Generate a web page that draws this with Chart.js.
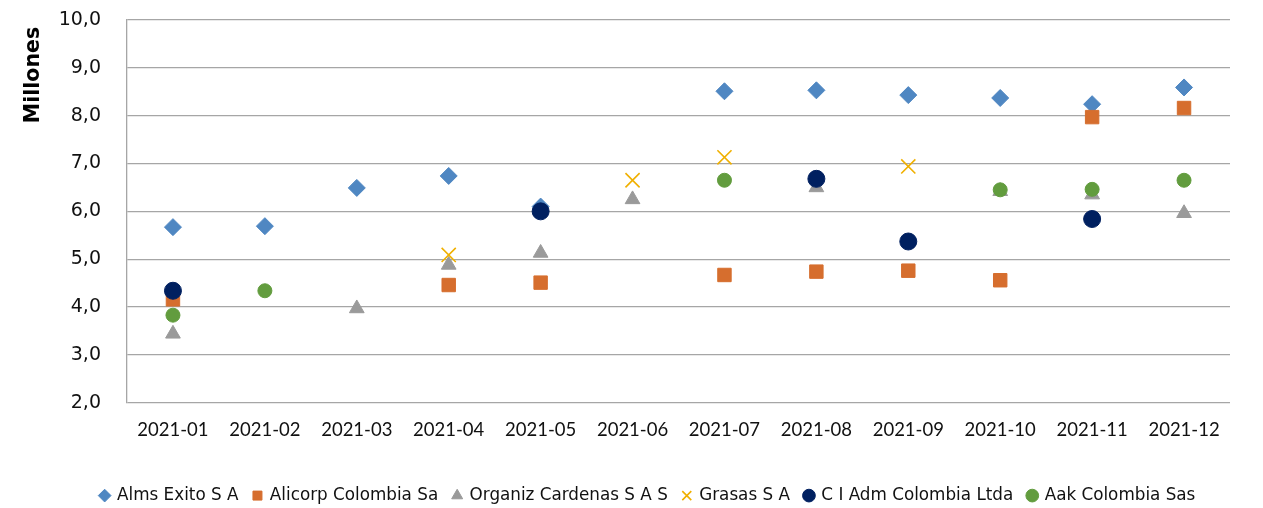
<!DOCTYPE html>
<html>
<head>
<meta charset="utf-8">
<script src="https://cdn.jsdelivr.net/npm/chart.js@4"></script>
<style>
  html, body { margin: 0; padding: 0; background: #fff; }
  #wrap { width: 1263px; height: 508px; }
</style>
</head>
<body>
<div id="wrap"><canvas id="myChart" width="1263" height="508"></canvas></div>
<script>
const months = ['2021-01', '2021-02', '2021-03', '2021-04', '2021-05', '2021-06',
  '2021-07', '2021-08', '2021-09', '2021-10', '2021-11', '2021-12']

// valores en millones
const almsExito = [5.67, 5.69, 6.49, 6.74, 6.1, null, 8.51, 8.53, 8.43, 8.37, 8.24, 8.59]
const alicorp = [4.16, null, null, 4.46, 4.51, null, 4.67, 4.74, 4.76, 4.56, 7.97, 8.16]
const organiz = [3.44, null, 3.97, 4.88, 5.13, 6.25, null, 6.5, null, 6.42, 6.35, 5.96]
const grasas = [null, null, null, 5.09, null, 6.65, 7.13, null, 6.94, null, null, null]
const ciAdm = [4.34, null, null, null, 6.0, null, null, 6.68, 5.37, null, 5.84, null]
const aak = [3.83, 4.34, null, null, null, null, 6.65, null, null, 6.45, 6.46, 6.65]

function serie(label, values, color, style, radius, order, width) {
  return {
    label: label,
    data: values,
    showLine: false,
    backgroundColor: color,
    borderColor: color,
    pointStyle: style,
    pointRadius: radius,
    pointHoverRadius: radius,
    pointBorderWidth: width || 1,
    order: order
  }
}

const data = {
  labels: months,
  datasets: [
    serie('Alms Exito S A', almsExito, '#4f87c2', 'rectRot', 8.5, 6),
    serie('Alicorp Colombia Sa', alicorp, '#d66e2e', 'rect', 9.5, 5),
    serie('Organiz Cardenas S A S', organiz, '#9a9a9a', 'triangle', 8.5, 4),
    serie('Grasas S A', grasas, '#f0b000', 'crossRot', 10, 3, 1.6),
    serie('C I Adm Colombia Ltda', ciAdm, '#002060', 'circle', 8.5, 2),
    serie('Aak Colombia Sas', aak, '#629c3e', 'circle', 7, 1)
  ]
}

// titulo del eje y leyenda corrida
const extras = {
  id: 'extras',
  afterLayout(chart) {
    chart.legend.left += 13
    chart.legend.right += 13
  },
  afterDraw(chart) {
    const ctx = chart.ctx
    ctx.save()
    ctx.translate(34, 75)
    ctx.rotate(-Math.PI / 2)
    ctx.font = 'bold 20.5px "DejaVu Sans"'
    ctx.fillStyle = '#000'
    ctx.textAlign = 'center'
    ctx.textBaseline = 'middle'
    ctx.fillText('Millones', 0, 0)
    ctx.restore()
  }
}

const config = {
  type: 'line',
  data: data,
  plugins: [extras],
  options: {
    responsive: false,
    animation: false,
    layout: { padding: { top: 20, left: 40, right: 33, bottom: -6 } },
    plugins: {
      tooltip: { enabled: false },
      legend: {
        position: 'bottom',
        labels: {
          usePointStyle: true,
          boxWidth: 8,
          boxHeight: 9,
          padding: 15,
          color: '#111',
          font: { family: 'DejaVu Sans', size: 16.8 },
          sort: (a, b) => a.datasetIndex - b.datasetIndex
        }
      }
    },
    scales: {
      x: {
        offset: true,
        grid: { display: false, drawTicks: false },
        border: { display: false },
        ticks: { padding: 16, color: '#111', font: { family: 'Lato', size: 18.5 }, maxRotation: 0 },
        afterFit: s => { s.height = 69.5 }
      },
      y: {
        min: 2,
        max: 10,
        grid: { color: '#a6a6a6', lineWidth: 1.3, drawTicks: true, tickLength: 26, tickColor: 'rgba(0,0,0,0)' },
        border: { display: true, color: '#a6a6a6', width: 1.3 },
        ticks: {
          stepSize: 1,
          padding: 0,
          color: '#111',
          font: { family: 'DejaVu Sans', size: 19 },
          callback: v => v.toFixed(1).replace('.', ',')
        },
        afterFit: s => { s.width = 87 }
      }
    }
  }
}

const myChart = new Chart(document.getElementById('myChart'), config)
</script>
</body>
</html>
